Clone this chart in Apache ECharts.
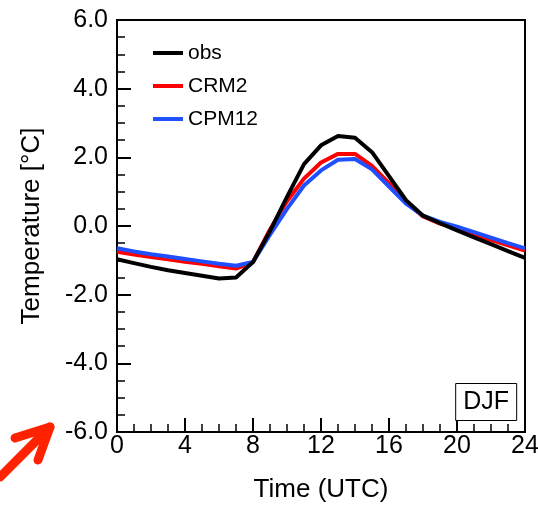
<!DOCTYPE html>
<html>
<head>
	<meta charset="utf-8">
	<title>DJF temperature</title>
	<style>
		html, body { margin: 0; padding: 0; background: #fff; }
		#main { width: 538px; height: 506px; }
	</style>
</head>
<body>
	<div id="main"></div>
	<script src="https://cdn.jsdelivr.net/npm/echarts@6/dist/echarts.min.js"></script>
	<script>
		// hours 0..24 (UTC)
		var hours = [0, 1, 2, 3, 4, 5, 6, 7, 8, 9, 10, 11, 12, 13, 14, 15, 16, 17, 18, 19, 20, 21, 22, 23, 24];
		var obs = [-0.97, -1.08, -1.19, -1.29, -1.37, -1.45, -1.53, -1.5, -1.05, -0.15, 0.85, 1.8, 2.35, 2.62, 2.57, 2.15, 1.45, 0.75, 0.3, 0.08, -0.13, -0.33, -0.53, -0.73, -0.93];
		var crm2 = [-0.75, -0.83, -0.9, -0.97, -1.04, -1.1, -1.17, -1.24, -1.05, -0.1, 0.72, 1.38, 1.85, 2.1, 2.1, 1.75, 1.25, 0.7, 0.28, 0.07, -0.07, -0.24, -0.4, -0.56, -0.72];
		var cpm12 = [-0.65, -0.74, -0.82, -0.89, -0.96, -1.03, -1.1, -1.16, -1.05, -0.25, 0.5, 1.18, 1.62, 1.93, 1.95, 1.65, 1.15, 0.65, 0.3, 0.12, -0.02, -0.18, -0.34, -0.5, -0.65];
		var seriesNames = ['obs', 'CRM2', 'CPM12'];
		var seriesColors = ['#000000', '#ff0000', '#1f4fff'];
		var seriesZ = [4, 2, 3];

		function pairs(vals) {
			var out = [];
			for (var i = 0; i < hours.length; i++) {
				out.push([hours[i], vals[i]]);
			}
			return out;
		}

		var allData = [obs, crm2, cpm12];
		var series = [];
		for (var k = 0; k < allData.length; k++) {
			series.push({
				name: seriesNames[k],
				type: 'line',
				data: pairs(allData[k]),
				symbol: 'none',
				z: seriesZ[k],
				lineStyle: { color: seriesColors[k], width: 4 },
				itemStyle: { color: seriesColors[k] }
			});
		}

		var font = 'Liberation Sans, Arial, Helvetica, sans-serif';

		var option = {
			backgroundColor: '#fff',
			animation: false,
			textStyle: { fontFamily: font, color: '#000' },
			grid: {
				left: 117,
				right: 13,
				top: 20,
				bottom: 74,
				outerBoundsMode: 'none',
				show: true,
				borderColor: '#000',
				borderWidth: 2
			},
			title: {
				text: 'DJF',
				right: 21,
				top: 383,
				padding: [7, 8, 6, 8],
				borderColor: '#000',
				borderWidth: 1,
				backgroundColor: '#fff',
				textStyle: { fontFamily: font, fontSize: 25, fontWeight: 'normal', color: '#000' }
			},
			legend: {
				data: seriesNames,
				orient: 'vertical',
				left: 148,
				top: 37,
				icon: 'rect',
				itemWidth: 30,
				itemHeight: 4,
				itemGap: 11,
				textStyle: { fontFamily: font, fontSize: 21, color: '#000', lineHeight: 22 }
			},
			xAxis: {
				type: 'value',
				min: 0,
				max: 24,
				interval: 4,
				name: 'Time (UTC)',
				nameLocation: 'middle',
				nameGap: 45,
				nameTextStyle: { fontFamily: font, fontSize: 26, color: '#000' },
				axisLine: { onZero: false, lineStyle: { color: '#000', width: 2 } },
				axisTick: { inside: true, length: 14, lineStyle: { color: '#000', width: 2 } },
				minorTick: { show: true, splitNumber: 4, length: 8, lineStyle: { color: '#000', width: 1.5 } },
				axisLabel: { margin: 2, fontFamily: font, fontSize: 25, color: '#000' },
				splitLine: { show: false }
			},
			yAxis: {
				type: 'value',
				min: -6,
				max: 6,
				interval: 2,
				name: 'Temperature [°C]',
				nameLocation: 'middle',
				nameGap: 72,
				nameTextStyle: { fontFamily: font, fontSize: 26, color: '#000' },
				axisLine: { onZero: false, lineStyle: { color: '#000', width: 2 } },
				axisTick: { inside: true, length: 14, lineStyle: { color: '#000', width: 2 } },
				minorTick: { show: true, splitNumber: 4, length: 8, lineStyle: { color: '#000', width: 1.5 } },
				axisLabel: {
					margin: 9,
					fontFamily: font,
					fontSize: 25,
					color: '#000',
					formatter: function (v) { return v.toFixed(1); }
				},
				splitLine: { show: false }
			},
			graphic: [{
				type: 'polyline',
				shape: { points: [[0, 477], [50, 427]] },
				style: { stroke: '#ff2200', lineWidth: 9, lineCap: 'round', fill: null }
			}, {
				type: 'polyline',
				shape: { points: [[15, 438], [50, 427], [38, 460]] },
				style: { stroke: '#ff2200', lineWidth: 9, lineCap: 'round', lineJoin: 'round', fill: null }
			}],
			series: series
		};

		var myChart = echarts.init(document.getElementById('main'));
		myChart.setOption(option);
	</script>
</body>
</html>
